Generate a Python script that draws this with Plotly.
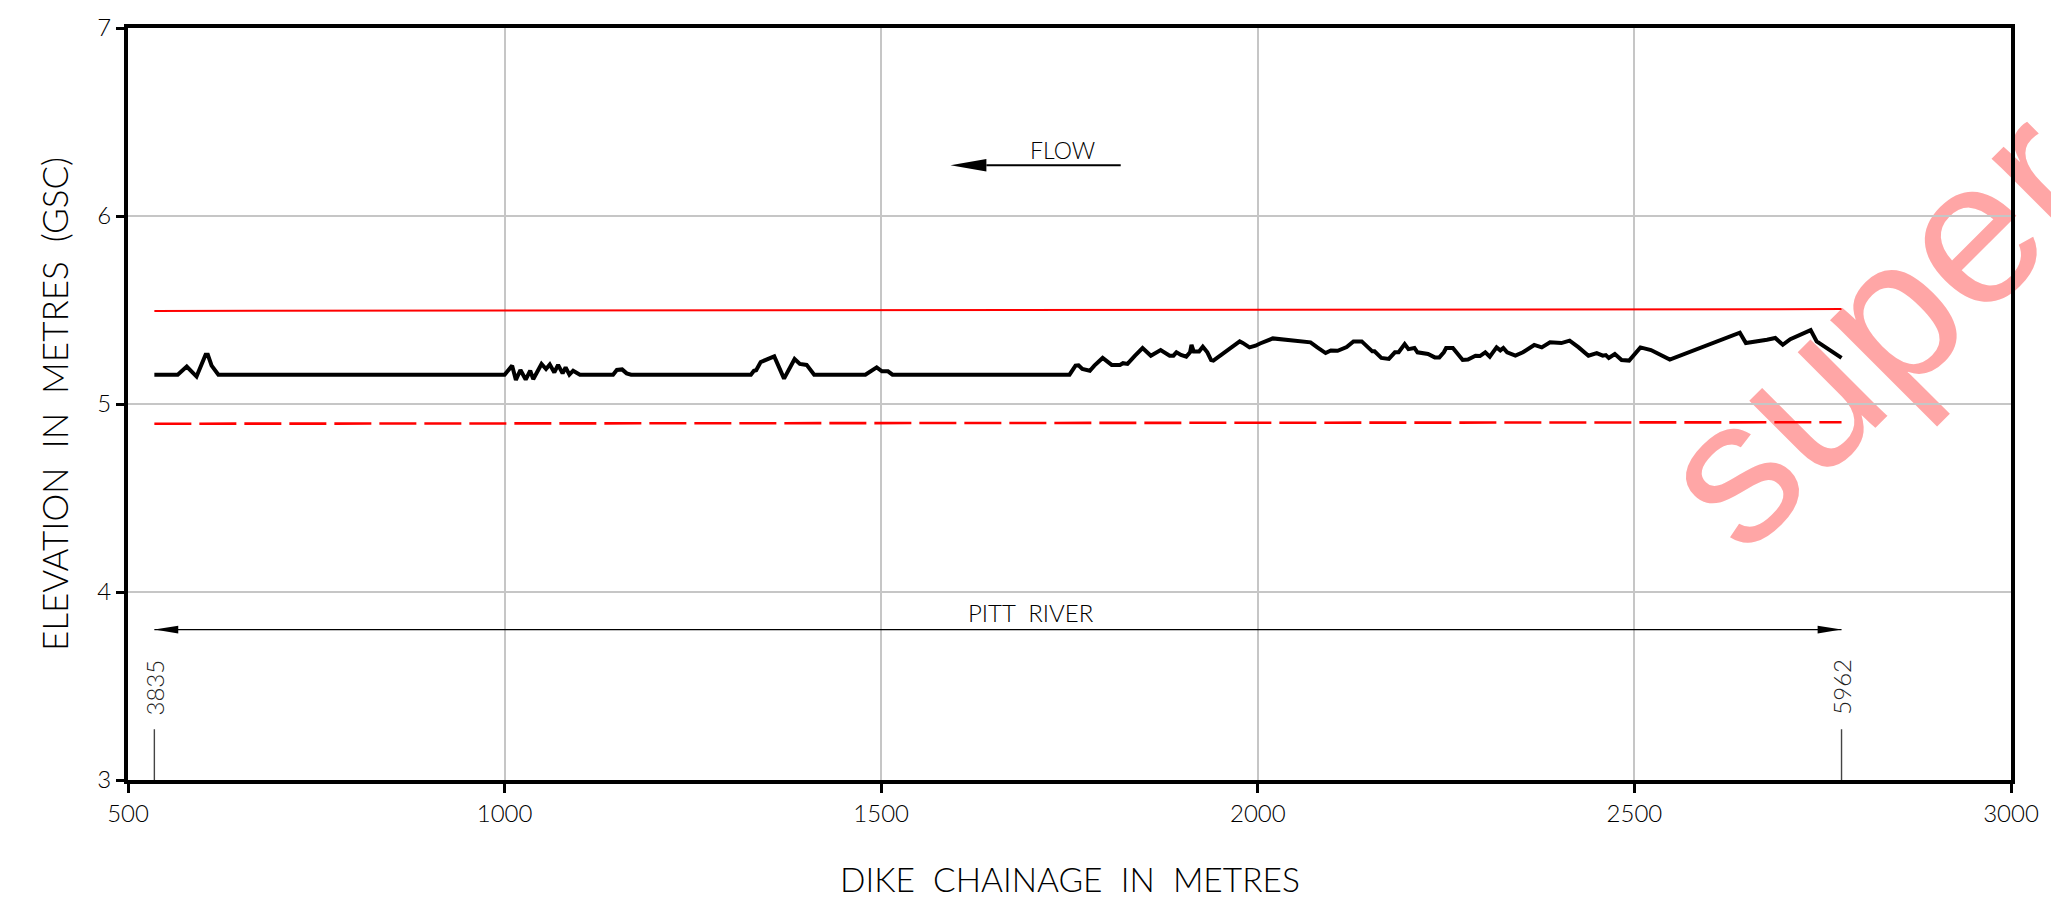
import plotly.graph_objects as go

# Dike crest profile along the Pitt River reach (chainage in m, elevation in m GSC)
chainage = [535, 566, 578, 591, 603, 606, 611, 620, 1000, 1010, 1015, 1021, 1028, 1034,
            1038, 1049, 1055, 1060, 1066, 1071, 1077, 1081, 1086, 1091, 1100, 1144, 1149,
            1156, 1162, 1168, 1327, 1331, 1334, 1340, 1358, 1371, 1385, 1392, 1401, 1411,
            1479, 1486, 1494, 1501, 1509, 1515, 1750, 1758, 1762, 1767, 1777, 1783, 1794,
            1806, 1817, 1821, 1827, 1837, 1847, 1858, 1871, 1883, 1888, 1892, 1898, 1905,
            1910, 1912, 1915, 1922, 1927, 1933, 1938, 1941, 1976, 1980, 1989, 1997, 2003,
            2020, 2041, 2070, 2079, 2090, 2097, 2106, 2118, 2127, 2138, 2145, 2152, 2155,
            2164, 2174, 2182, 2187, 2195, 2200, 2208, 2212, 2226, 2235, 2241, 2247, 2250,
            2259, 2272, 2279, 2289, 2295, 2302, 2308, 2317, 2322, 2326, 2331, 2342, 2352,
            2357, 2367, 2377, 2388, 2403, 2414, 2426, 2439, 2450, 2458, 2462, 2466, 2474,
            2483, 2493, 2508, 2522, 2534, 2547, 2640, 2648, 2676, 2687, 2697, 2707, 2734,
            2742, 2775]
crest = [5.156, 5.156, 5.199, 5.146, 5.262, 5.262, 5.204, 5.156, 5.156, 5.204, 5.128, 5.181,
         5.130, 5.177, 5.132, 5.213, 5.186, 5.210, 5.168, 5.208, 5.163, 5.195, 5.156, 5.177,
         5.156, 5.156, 5.181, 5.184, 5.163, 5.156, 5.156, 5.177, 5.180, 5.223, 5.253, 5.135,
         5.239, 5.213, 5.208, 5.156, 5.156, 5.177, 5.195, 5.174, 5.174, 5.156, 5.156, 5.204,
         5.206, 5.186, 5.177, 5.204, 5.245, 5.208, 5.208, 5.217, 5.213, 5.257, 5.298, 5.257,
         5.287, 5.257, 5.257, 5.275, 5.261, 5.252, 5.275, 5.315, 5.279, 5.279, 5.305, 5.275,
         5.234, 5.231, 5.333, 5.325, 5.301, 5.310, 5.322, 5.349, 5.340, 5.328, 5.301, 5.271,
         5.285, 5.283, 5.303, 5.333, 5.333, 5.305, 5.280, 5.280, 5.245, 5.240, 5.275, 5.275,
         5.319, 5.292, 5.298, 5.275, 5.266, 5.248, 5.248, 5.275, 5.298, 5.298, 5.234, 5.237,
         5.257, 5.255, 5.275, 5.252, 5.301, 5.285, 5.298, 5.275, 5.257, 5.275, 5.287, 5.314,
         5.301, 5.328, 5.324, 5.337, 5.301, 5.257, 5.271, 5.257, 5.260, 5.245, 5.266, 5.234,
         5.231, 5.301, 5.287, 5.262, 5.236, 5.379, 5.324, 5.342, 5.351, 5.315, 5.345, 5.393,
         5.333, 5.245]

# Reference water levels at the two ends of the reach
level_chainage = [535, 2775]
upper_level = [5.495, 5.505]
lower_level = [4.895, 4.903]

# Reach limits (local chainage) and their station labels
reach_ends = [535, 2775]
reach_labels = ["3835", "5962"]

# Axes
x_range = [500, 3000]
y_range = [3, 7]
x_ticks = [500, 1000, 1500, 2000, 2500, 3000]
y_ticks = [3, 4, 5, 6, 7]

# Annotation positions (data units)
flow_tail, flow_tip, flow_y = 1818, 1592, 6.27
river_y = 3.8
station_tick_top = 3.27
station_label_y = 3.494

W, H = 2051, 906
M = dict(l=128, r=33, t=25, b=126)
PLOT_W = W - M["l"] - M["r"]
PLOT_H = H - M["t"] - M["b"]
PX_X = PLOT_W / (x_range[1] - x_range[0])
PX_Y = PLOT_H / (y_range[1] - y_range[0])

FONT = "Lato, Roboto, 'Liberation Sans', sans-serif"


def head_path(tip_x, tip_y, direction, length_px, half_px):
    """Filled triangular arrow head pointing in +x (direction=1) or -x (-1)."""
    base_x = tip_x - direction * length_px / PX_X
    dy = half_px / PX_Y
    return f"M{tip_x},{tip_y} L{base_x},{tip_y + dy} L{base_x},{tip_y - dy} Z"


fig = go.Figure()

fig.add_trace(go.Scatter(x=level_chainage, y=upper_level, mode="lines",
                         line=dict(color="#ff0000", width=2), hoverinfo="skip"))
fig.add_trace(go.Scatter(x=level_chainage, y=lower_level, mode="lines",
                         line=dict(color="#ff0000", width=2.6, dash="37px,8px"),
                         hoverinfo="skip"))
fig.add_trace(go.Scatter(x=chainage, y=crest, mode="lines",
                         line=dict(color="#000000", width=4), hoverinfo="skip"))

shapes = []

# FLOW arrow
flow_head_len = 36
shapes.append(dict(type="line", xref="x", yref="y",
                   x0=flow_tail, x1=flow_tip + flow_head_len / PX_X, y0=flow_y, y1=flow_y,
                   line=dict(color="black", width=2)))
shapes.append(dict(type="path", xref="x", yref="y",
                   path=head_path(flow_tip, flow_y, -1, flow_head_len, 6.2),
                   fillcolor="black", line=dict(width=0)))

# PITT RIVER dimension arrow
river_head_len = 24
shapes.append(dict(type="line", xref="x", yref="y",
                   x0=reach_ends[0], x1=reach_ends[1], y0=river_y, y1=river_y,
                   line=dict(color="black", width=1.4)))
shapes.append(dict(type="path", xref="x", yref="y",
                   path=head_path(reach_ends[0], river_y, -1, river_head_len, 3.8),
                   fillcolor="black", line=dict(width=0)))
shapes.append(dict(type="path", xref="x", yref="y",
                   path=head_path(reach_ends[1], river_y, 1, river_head_len, 3.8),
                   fillcolor="black", line=dict(width=0)))

# Station ticks at the reach limits
for xe in reach_ends:
    shapes.append(dict(type="line", xref="x", yref="y", x0=xe, x1=xe,
                       y0=y_range[0], y1=station_tick_top,
                       line=dict(color="#444444", width=1.4)))

# Watermark
shapes.append(dict(type="line", xref="paper", yref="paper", layer="below",
                   x0=0.9635, x1=0.9636, y0=0.508, y1=0.508,
                   line=dict(width=0, color="rgba(0,0,0,0)"),
                   label=dict(text="super", textangle=-45, textposition="middle",
                              font=dict(family="'Liberation Sans', Arial, sans-serif",
                                        size=205, color="rgb(255,166,166)"))))

annotations = [
    dict(x=1741, y=6.35, xref="x", yref="y", text="FLOW", showarrow=False,
         font=dict(family=FONT, size=23, color="black", weight=300)),
    dict(x=1699, y=3.892, xref="x", yref="y", text="PITT\u00a0\u00a0RIVER", showarrow=False,
         font=dict(family=FONT, size=24, color="black", weight=300)),
    dict(x=0.5, y=0, xref="paper", yref="paper", yshift=-99, yanchor="middle",
         text="DIKE\u00a0\u00a0CHAINAGE\u00a0\u00a0IN\u00a0\u00a0METRES", showarrow=False,
         font=dict(family=FONT, size=33.5, color="black", weight=300)),
    dict(x=0, y=0.5, xref="paper", yref="paper", xshift=-74, xanchor="center",
         yanchor="middle", textangle=-90,
         text="ELEVATION\u00a0\u00a0IN\u00a0\u00a0METRES\u00a0\u00a0(GSC)", showarrow=False,
         font=dict(family=FONT, size=35, color="black", weight=300)),
]
for xe, lab in zip(reach_ends, reach_labels):
    annotations.append(dict(x=xe, y=station_label_y, xref="x", yref="y", text=lab,
                            showarrow=False, textangle=-90,
                            font=dict(family=FONT, size=24, color="#222222", weight=300)))

axis_common = dict(showline=True, linecolor="black", linewidth=4, mirror=True,
                   ticks="outside", tickwidth=3, tickcolor="black",
                   showgrid=True, gridcolor="#c6c6c6", gridwidth=2, zeroline=False,
                   tickfont=dict(family=FONT, size=24, color="black", weight=300))

fig.update_layout(
    width=W, height=H, margin=M,
    paper_bgcolor="white", plot_bgcolor="white",
    showlegend=False,
    xaxis=dict(range=x_range, tickvals=x_ticks, ticklen=9, **axis_common),
    yaxis=dict(range=y_range, tickvals=y_ticks, ticklen=8, **axis_common),
    shapes=shapes, annotations=annotations,
)

fig.write_html("out.html")
